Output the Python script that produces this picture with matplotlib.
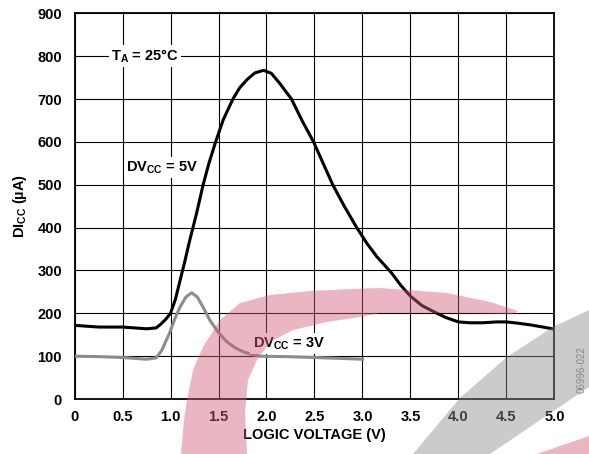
import matplotlib
matplotlib.use('Agg')
import matplotlib.pyplot as plt
from matplotlib.patches import Polygon
from matplotlib.transforms import Affine2D

# DV_CC = 5V curve
x_5v = [0, 0.25, 0.5, 0.75, 0.85, 0.9, 0.95, 1.0, 1.05, 1.1, 1.15, 1.2, 1.27, 1.34, 1.4,
        1.47, 1.55, 1.65, 1.72, 1.8, 1.88, 1.97, 2.05, 2.14, 2.26, 2.37, 2.49, 2.59,
        2.69, 2.81, 2.94, 3.05, 3.15, 3.3, 3.4, 3.5, 3.62, 3.75, 3.87, 4.0, 4.12, 4.25,
        4.4, 4.5, 4.62, 4.75, 4.88, 5.0]
y_5v = [172, 168, 168, 164, 166, 175, 186, 200, 232, 277, 322, 370, 432, 500, 550,
        600, 652, 700, 726, 746, 761, 767, 760, 736, 700, 650, 600, 550,
        500, 450, 400, 362, 332, 295, 265, 240, 218, 203, 190, 180, 178, 178,
        180, 180, 177, 173, 168, 163]

# DV_CC = 3V curve
x_3v = [0, 0.25, 0.5, 0.75, 0.85, 0.91, 0.99, 1.05, 1.1, 1.16, 1.22, 1.28, 1.35, 1.41,
        1.5, 1.585, 1.67, 1.76, 1.85, 1.93, 2.2, 2.5, 3.0]
y_3v = [100, 99, 97, 93, 96, 114, 154, 190, 215, 238, 248, 238, 210, 184,
        155, 134, 120, 110, 104, 100, 99, 97, 93]

xticks = [0, 0.5, 1.0, 1.5, 2.0, 2.5, 3.0, 3.5, 4.0, 4.5, 5.0]
xtick_labels = ['0', '0.5', '1.0', '1.5', '2.0', '2.5', '3.0', '3.5', '4.0', '4.5', '5.0']
yticks = [0, 100, 200, 300, 400, 500, 600, 700, 800, 900]

plt.rcParams['font.family'] = 'Liberation Sans'
plt.rcParams['font.weight'] = 'bold'
plt.rcParams['mathtext.fontset'] = 'custom'
plt.rcParams['mathtext.rm'] = 'Liberation Sans:bold'
plt.rcParams['mathtext.it'] = 'Liberation Sans:bold'
plt.rcParams['mathtext.bf'] = 'Liberation Sans:bold'

fig = plt.figure(figsize=(5.89, 4.54), dpi=100)
ax = fig.add_axes([0.1265, 0.121, 0.8149, 0.8497])

ax.plot(x_5v, y_5v, color='black', lw=2.2, solid_joinstyle='round', zorder=3)
ax.plot(x_3v, y_3v, color='#8c8c8c', lw=2.2, solid_joinstyle='round', zorder=3)

ax.set_xlim(0, 5)
ax.set_ylim(0, 900)
ax.set_xticks(xticks)
ax.set_xticklabels(xtick_labels)
ax.set_yticks(yticks)
ax.grid(True, color='black', lw=0.8)
ax.tick_params(length=0, labelsize=10.5)
ax.tick_params(axis='x', pad=8)
ax.tick_params(axis='y', pad=9)
for s in ax.spines.values():
    s.set_linewidth(1.3)

ax.set_xlabel('LOGIC VOLTAGE (V)', fontsize=10.5, fontweight='bold', labelpad=3)
ax.set_ylabel(r'DI$_{\mathbf{CC}}$ (µA)', fontsize=10.5, fontweight='bold', labelpad=6)

box = dict(facecolor='white', edgecolor='none', pad=1.5)
ax.text(0.73, 800, r'T$_{\mathbf{A}}$ = 25°C', fontsize=10.5, ha='center', va='center',
        bbox=box, zorder=4)
ax.text(0.91, 540, r'DV$_{\mathbf{CC}}$ = 5V', fontsize=10.5, ha='center', va='center',
        bbox=box, zorder=4)
ax.text(2.23, 130, r'DV$_{\mathbf{CC}}$ = 3V', fontsize=10.5, ha='center', va='center',
        bbox=box, zorder=4)

fig.text(0.988, 0.135, '06996-022', rotation=90, fontsize=7, fontweight='normal',
         color='#808080', ha='center', va='bottom')

# faint background watermark, in figure pixels
px = Affine2D().scale(1 / 589, -1 / 454).translate(0, 1) + fig.transFigure
pink = [(181, 454), (184, 420), (187, 400), (193, 370), (203, 347), (220, 320), (240, 303),
        (270, 295), (310, 291), (353, 289), (380, 288), (447, 293), (490, 302), (518, 311),
        (513, 314), (450, 313), (380, 313), (360, 317), (327, 322), (293, 330), (270, 342),
        (257, 360), (248, 380), (245, 413), (247, 454)]
gray = [(413, 454), (460, 398), (507, 357), (553, 327), (589, 310), (589, 387), (490, 454)]
pink2 = [(537, 454), (589, 436), (589, 454)]
for pts, c in [(pink, '#d35d7b'), (pink2, '#d35d7b'), (gray, '#8d8d8d')]:
    fig.patches.append(Polygon(pts, closed=True, transform=px, facecolor=c,
                               edgecolor='none', alpha=0.45, zorder=5))

fig.savefig('out.png', dpi=100)
